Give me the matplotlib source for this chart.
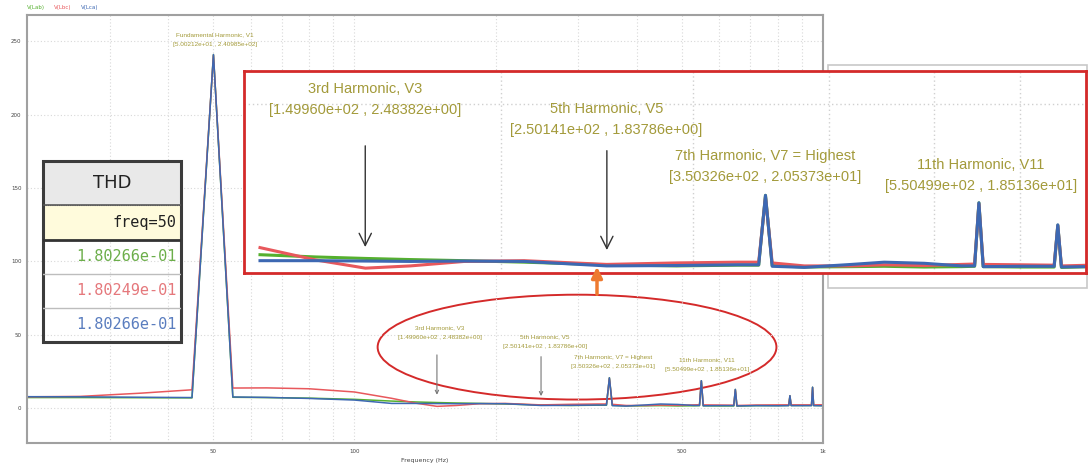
import matplotlib.pyplot as plt
from matplotlib.patches import Ellipse, Rectangle, FancyArrowPatch
from matplotlib.ticker import FixedLocator, FixedFormatter, NullFormatter

W, H = 1088, 465

# spectrum samples (Hz, magnitude)
FREQ = [20, 26, 35, 45, 50, 55, 65, 80, 100, 120, 135, 150, 165, 185, 210, 250,
        290, 330, 345, 350, 355, 380, 420, 450, 490, 530, 545, 550, 555, 600,
        645, 650, 655, 720, 800, 845, 850, 855, 900, 945, 950, 955, 1000]
V_LAB = [7.0, 7.0, 6.9, 6.8, 240.99, 7.2, 7.0, 6.6, 5.8, 4.6, 4.0, 3.6, 3.3, 3.0, 2.6, 1.9,
         1.6, 1.8, 1.8, 20.5, 1.7, 1.3, 1.4, 1.5, 1.3, 1.4, 1.5, 18.5, 1.4, 1.3,
         1.3, 12.5, 1.2, 1.5, 1.5, 1.6, 8.2, 1.6, 1.6, 1.6, 14.0, 1.6, 1.5]
V_LBC = [7.5, 7.8, 10.0, 12.3, 240.5, 13.5, 13.6, 13.0, 10.8, 6.5, 3.2, 1.0, 1.6, 2.8, 3.0, 2.0,
         2.4, 2.6, 2.6, 20.0, 2.4, 1.6, 1.6, 1.9, 1.7, 2.0, 2.1, 18.2, 2.0, 1.9,
         1.8, 12.3, 1.6, 1.9, 2.0, 2.0, 8.0, 2.0, 2.0, 2.0, 13.8, 2.0, 2.1]
V_LCA = [7.6, 7.5, 7.2, 7.0, 240.99, 7.4, 7.1, 6.4, 5.3, 3.0, 3.0, 2.9, 2.8, 2.9, 2.8, 1.6,
         1.7, 1.9, 1.9, 20.5, 1.5, 1.2, 2.0, 2.6, 2.3, 1.6, 1.6, 18.5, 1.4, 1.5,
         1.5, 12.6, 1.3, 1.5, 1.4, 1.5, 8.3, 1.5, 1.5, 1.5, 14.1, 1.5, 1.4]

SERIES_NAMES = ["V(Lab)", "V(Lbc)", "V(Lca)"]
LINE_COLORS = ["#55b02e", "#e8585c", "#3d68b2"]
TEXT_COLORS = ["#6cae4a", "#e5787c", "#5a7dbf"]

THD_FREQ = 50
THD_VALUES = ["1.80266e-01", "1.80249e-01", "1.80266e-01"]

# (label, frequency, magnitude)
HARMONICS = [
    ("Fundamental Harmonic, V1", 50.0212, 240.985),
    ("3rd Harmonic, V3", 149.960, 2.48382),
    ("5th Harmonic, V5", 250.141, 1.83786),
    ("7th Harmonic, V7 = Highest", 350.326, 20.5373),
    ("11th Harmonic, V11", 550.499, 18.5136),
]

OLIVE = "#a39a3a"
NARROW = ["Liberation Sans Narrow", "Liberation Sans", "DejaVu Sans"]


def px_rect(x0, y0, x1, y1):
    return [x0 / W, 1 - y1 / H, (x1 - x0) / W, (y1 - y0) / H]


def label_text(name, f, v):
    return f"{name}\n[{f:.5e} , {v:.5e}]"


fig = plt.figure(figsize=(W / 100, H / 100), dpi=100)

# ---- main spectrum ----
ax = fig.add_axes(px_rect(27, 15, 823, 443))
ax.set_zorder(1)
for vals, c in zip([V_LAB, V_LBC, V_LCA], LINE_COLORS):
    ax.plot(FREQ, vals, color=c, lw=1.1)
ax.set_xscale("log")
ax.set_xlim(20, 1000)
ax.set_ylim(-24, 268)
ax.xaxis.set_major_locator(FixedLocator([50, 100, 500, 1000]))
ax.xaxis.set_major_formatter(FixedFormatter(["50", "100", "500", "1k"]))
ax.xaxis.set_minor_locator(FixedLocator([30, 40, 60, 70, 80, 90, 200, 300, 400, 600, 700, 800, 900]))
ax.xaxis.set_minor_formatter(NullFormatter())
ax.set_yticks([0, 50, 100, 150, 200, 250])
ax.tick_params(which="both", length=0, labelsize=4, colors="#444444", pad=4)
ax.grid(which="both", color="#d8d8d8", linestyle=(0, (1, 2)), lw=0.8)
for s in ax.spines.values():
    s.set_color("#a0a0a0")
    s.set_linewidth(1.5)
ax.set_xlabel("Frequency (Hz)", fontsize=4.5, color="#444444", labelpad=3)

main_pos = [(50.3, 251), (152, 51), (255, 45.3), (357, 31.3), (566, 29.3)]
for (name, f, v), (tx, ty) in zip(HARMONICS, main_pos):
    ax.text(tx, ty, label_text(name, f, v), fontsize=4.6, color=OLIVE, ha="center",
            va="center", family=NARROW, linespacing=2.2)
for f, tail, tip in [(149.960, 38, 7), (250.141, 36.8, 6.1)]:
    ax.annotate("", xy=(f, tip), xytext=(f, tail),
                arrowprops=dict(arrowstyle="->", color="#777777", lw=0.8, mutation_scale=6))

ax.add_patch(Ellipse((0.691, 0.224), 0.501, 0.245, transform=ax.transAxes,
                     fill=False, edgecolor="#d42a2a", lw=1.4))

for name, c, x in zip(SERIES_NAMES, LINE_COLORS, [27, 54, 81]):
    fig.text(x / W, 1 - 7 / H, name, fontsize=4, color=c, va="center")

# ---- gray backing of pasted zoom ----
fig.add_artist(Rectangle((828 / W, 1 - 288 / H), 259 / W, 223 / H, transform=fig.transFigure,
                         facecolor="white", edgecolor="#c8c8c8", lw=1.2, zorder=1.5))

# ---- zoomed inset ----
axi = fig.add_axes(px_rect(244, 71, 1086, 273))
axi.set_zorder(2)
keep = [i for i, f in enumerate(FREQ) if f >= 120]
for vals, c in zip([V_LAB, V_LBC, V_LCA], LINE_COLORS):
    axi.plot([FREQ[i] for i in keep], [vals[i] for i in keep], color=c, lw=2.2)
axi.set_xscale("log")
axi.set_xlim(116, 690)
axi.set_ylim(-0.3, 53.8)
axi.xaxis.set_major_locator(FixedLocator([200, 300, 400, 500, 600]))
axi.xaxis.set_minor_locator(FixedLocator([]))
axi.set_yticks([45])
axi.tick_params(which="both", length=0, labelbottom=False, labelleft=False)
axi.grid(color="#d0d0d0", linestyle=(0, (1, 2)), lw=1.0)
for s in axi.spines.values():
    s.set_color("#d42a2a")
    s.set_linewidth(2)

inset_pos = [(150, 46.2), (250, 40.8), (350, 28.3), (552, 25.8)]
for (name, f, v), (tx, ty) in zip(HARMONICS[1:], inset_pos):
    axi.text(tx, ty, label_text(name, f, v), fontsize=10.5, color=OLIVE, ha="center",
             va="center", family=NARROW, linespacing=1.6)
for f, tail, tip in [(149.960, 34.5, 5.9), (250.141, 33.2, 5.1)]:
    axi.annotate("", xy=(f, tip), xytext=(f, tail),
                 arrowprops=dict(arrowstyle="->", color="#333333", lw=1.0, mutation_scale=22))

# ---- THD table ----
axt = fig.add_axes(px_rect(43, 161, 181, 342))
axt.set_zorder(3)
axt.set_xlim(0, 1)
axt.set_ylim(1, 0)
axt.axis("off")
edges = [0, 0.243, 0.436, 0.624, 0.812, 1.0]
axt.add_patch(Rectangle((0, 0), 1, edges[1], facecolor="#e9e9e9", edgecolor="white", lw=1.5))
axt.add_patch(Rectangle((0, edges[1]), 1, edges[2] - edges[1], facecolor="#fffbdc",
                        edgecolor="#777777", lw=0.8, linestyle=(0, (1, 1))))
for e in edges[3:5]:
    axt.plot([0, 1], [e, e], color="#bdbdbd", lw=1)
axt.plot([0, 1], [edges[2], edges[2]], color="#333333", lw=2)
axt.plot([0, 1], [edges[1], edges[1]], color="#555555", lw=1.2)
axt.add_patch(Rectangle((0, 0), 1, 1, fill=False, edgecolor="#3c3c3c", lw=2.2, clip_on=False))
axt.text(0.5, edges[1] / 2, "THD", ha="center", va="center", fontsize=13, color="#222222")
axt.text(0.965, (edges[1] + edges[2]) / 2, f"freq={THD_FREQ}", ha="right", va="center",
         fontsize=11, family="DejaVu Sans Mono", color="#222222")
for k, (val, c) in enumerate(zip(THD_VALUES, TEXT_COLORS)):
    axt.text(0.965, (edges[k + 2] + edges[k + 3]) / 2, val, ha="right", va="center",
             fontsize=11, family="DejaVu Sans Mono", color=c)

# ---- orange pointer from ellipse to zoom ----
fig.add_artist(FancyArrowPatch((597 / W, 1 - 297 / H), (597 / W, 1 - 264 / H),
                               transform=fig.transFigure, arrowstyle="-|>", color="#ee7a30",
                               lw=2.5, mutation_scale=16, zorder=5))

fig.savefig("out.png", dpi=100)
